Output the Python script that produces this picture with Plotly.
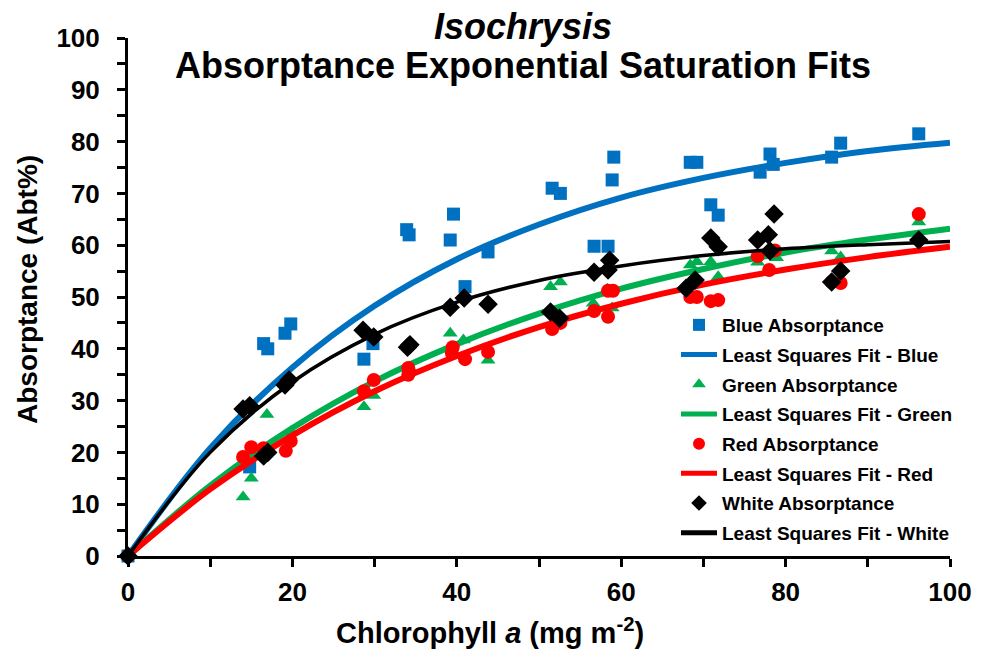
import plotly.graph_objects as go

# ---- measured data ----
blue_x = [0, 14.8, 16.5, 17.0, 19.1, 19.8, 28.7, 29.8, 33.9, 34.2, 39.2, 39.6, 41.0, 43.8,
          51.6, 52.6, 56.7, 58.4, 58.9, 59.1, 68.4, 69.2, 70.9, 71.8, 76.9, 78.1, 78.5,
          85.6, 86.7, 96.2]
blue_y = [0, 17.2, 41.0, 40.0, 43.0, 44.8, 38.0, 41.0, 63.0, 62.0, 61.0, 66.0, 52.0, 58.7,
          71.0, 70.0, 59.8, 59.8, 72.6, 77.0, 76.0, 76.0, 67.8, 65.8, 74.1, 77.6, 75.6,
          77.0, 79.7, 81.5]

green_x = [0, 14.0, 15.0, 16.9, 19.8, 28.7, 29.9, 34.2, 39.2, 40.8, 43.8, 51.4, 52.6, 56.6,
           58.3, 58.9, 68.4, 69.2, 70.9, 71.8, 76.6, 78.9, 85.6, 86.7, 96.2]
green_y = [0, 11.4, 15.0, 27.3, 24.0, 28.8, 31.0, 36.5, 43.0, 41.7, 37.8, 52.0, 52.9, 48.8,
           51.5, 47.9, 56.2, 56.8, 56.8, 53.9, 56.7, 57.6, 58.9, 57.7, 64.5]

red_x = [0, 14.0, 15.0, 16.5, 19.2, 19.8, 28.7, 29.9, 34.1, 34.1, 39.4, 39.5, 41.0, 43.8,
         51.6, 52.6, 56.7, 58.4, 58.4, 59.0, 68.4, 69.2, 70.9, 71.8, 76.6, 78.0, 78.7,
         85.6, 86.7, 96.2]
red_y = [0, 19.1, 21.0, 20.8, 20.3, 22.2, 31.8, 34.0, 36.3, 35.0, 39.2, 40.3, 38.0, 39.4,
         43.8, 45.0, 47.3, 46.2, 51.2, 51.2, 50.0, 50.0, 49.2, 49.4, 57.9, 55.2, 59.0,
         52.9, 52.7, 66.0]

white_x = [0, 14.0, 14.8, 16.5, 17.0, 19.1, 19.6, 28.6, 29.9, 34.0, 34.3, 39.2, 40.9, 43.8,
           51.4, 52.5, 56.7, 58.4, 58.6, 67.9, 69.0, 70.9, 71.8, 76.6, 77.9, 78.1, 78.6,
           85.6, 86.7, 96.2]
white_y = [0, 28.4, 29.0, 19.3, 20.0, 33.0, 34.0, 43.6, 42.3, 40.3, 40.8, 48.0, 49.8, 48.6,
           47.1, 45.9, 54.8, 55.2, 57.1, 51.7, 53.3, 61.4, 59.7, 61.0, 62.0, 58.9, 66.0,
           52.9, 55.0, 61.0]

# fitted curves
fit_x = [0, 10, 20, 30, 40, 50, 60, 70, 80, 90, 100]
fit_blue = [0, 20.8, 36.4, 48.3, 57.3, 64.0, 69.2, 73.0, 75.9, 78.2, 79.8]
fit_green = [0, 13.6, 24.7, 33.7, 40.9, 46.8, 51.6, 55.4, 58.6, 61.1, 63.2]
fit_red = [0, 12.9, 23.3, 31.8, 38.6, 44.2, 48.7, 52.4, 55.3, 57.7, 59.7]
fit_white = [0, 20.0, 33.6, 42.8, 49.0, 53.2, 56.0, 58.0, 59.3, 60.1, 60.7]

x_ticks = [0, 20, 40, 60, 80, 100]
y_ticks = [0, 10, 20, 30, 40, 50, 60, 70, 80, 90, 100]

C_BLUE = "#0070C0"
C_GREEN = "#00B050"
C_RED = "#FF0000"
C_BLACK = "#000000"
FONT = "Liberation Sans, Arial, sans-serif"

fig = go.Figure()

series = [
    ("Blue Absorptance", blue_x, blue_y, "square", 13, C_BLUE,
     "Least Squares Fit - Blue", fit_blue, 6),
    ("Green Absorptance", green_x, green_y, "triangle-up", 13, C_GREEN,
     "Least Squares Fit - Green", fit_green, 6),
    ("Red Absorptance", red_x, red_y, "circle", 14, C_RED,
     "Least Squares Fit - Red", fit_red, 6),
    ("White Absorptance", white_x, white_y, "diamond", 15, C_BLACK,
     "Least Squares Fit - White", fit_white, 3.5),
]

for i, (mname, xs, ys, sym, msz, col, lname, fy, lw) in enumerate(series):
    fig.add_trace(go.Scatter(
        x=xs, y=ys, mode="markers", name=mname, legendgroup=f"g{2*i}",
        marker=dict(symbol=sym, size=msz, color=col, line=dict(width=0)),
        cliponaxis=False))
    fig.add_trace(go.Scatter(
        x=fit_x, y=fy, mode="lines", name=lname, legendgroup=f"g{2*i+1}",
        line=dict(color=col, width=lw, shape="spline", smoothing=1.0),
        cliponaxis=False))

axis_common = dict(
    showline=True, linecolor="black", linewidth=3, mirror=False,
    ticks="outside", ticklen=8, tickwidth=3, tickcolor="black",
    showgrid=False, zeroline=False,
    tickfont=dict(family=FONT, size=26, color="black", weight="bold"),
)

fig.update_xaxes(range=[0, 100], tickvals=x_ticks, ticktext=[str(v) for v in x_ticks],
                 minor=dict(dtick=10, tick0=0, ticks="outside", ticklen=8,
                            tickwidth=3, tickcolor="black", showgrid=False),
                 ticklabelstandoff=3, **axis_common)
fig.update_yaxes(range=[0, 100], tickvals=y_ticks, ticktext=[str(v) for v in y_ticks],
                 minor=dict(dtick=5, tick0=0, ticks="outside", ticklen=8,
                            tickwidth=3, tickcolor="black", showgrid=False),
                 ticklabelstandoff=12, **axis_common)

L, R, T, B = 128, 37, 38, 93
PW, PH = 987 - L - R, 649 - T - B


def px(xp):
    return (xp - L) / PW


def py(yp):
    return (649 - B - yp) / PH


annotations = [
    dict(text="<b><i>Isochrysis</i></b>", x=px(523), y=py(27), xref="paper", yref="paper",
         showarrow=False, xanchor="center", yanchor="middle",
         font=dict(family=FONT, size=36, color="black")),
    dict(text="<b>Absorptance Exponential Saturation Fits</b>", x=px(523), y=py(65),
         xref="paper", yref="paper", showarrow=False, xanchor="center", yanchor="middle",
         font=dict(family=FONT, size=36, color="black")),
    dict(text="<b>Chlorophyll <i>a</i> (mg m<sup>-2</sup>)</b>", x=px(490), y=py(631),
         xref="paper", yref="paper", showarrow=False, xanchor="center", yanchor="middle",
         font=dict(family=FONT, size=29, color="black")),
    dict(text="<b>Absorptance (Abt%)</b>", x=px(27), y=py(290), xref="paper", yref="paper",
         showarrow=False, xanchor="center", yanchor="middle", textangle=-90,
         font=dict(family=FONT, size=28, color="black")),
]

fig.update_layout(
    width=987, height=649,
    margin=dict(l=L, r=R, t=T, b=B),
    paper_bgcolor="white", plot_bgcolor="white",
    showlegend=True,
    legend=dict(x=px(676), y=py(306), xanchor="left", yanchor="top",
                bgcolor="rgba(0,0,0,0)", borderwidth=0, itemsizing="constant",
                font=dict(family=FONT, size=19, color="black", weight="bold"),
                traceorder="grouped", tracegroupgap=2, itemwidth=36),
    annotations=annotations,
)

fig.write_html("out.html")
